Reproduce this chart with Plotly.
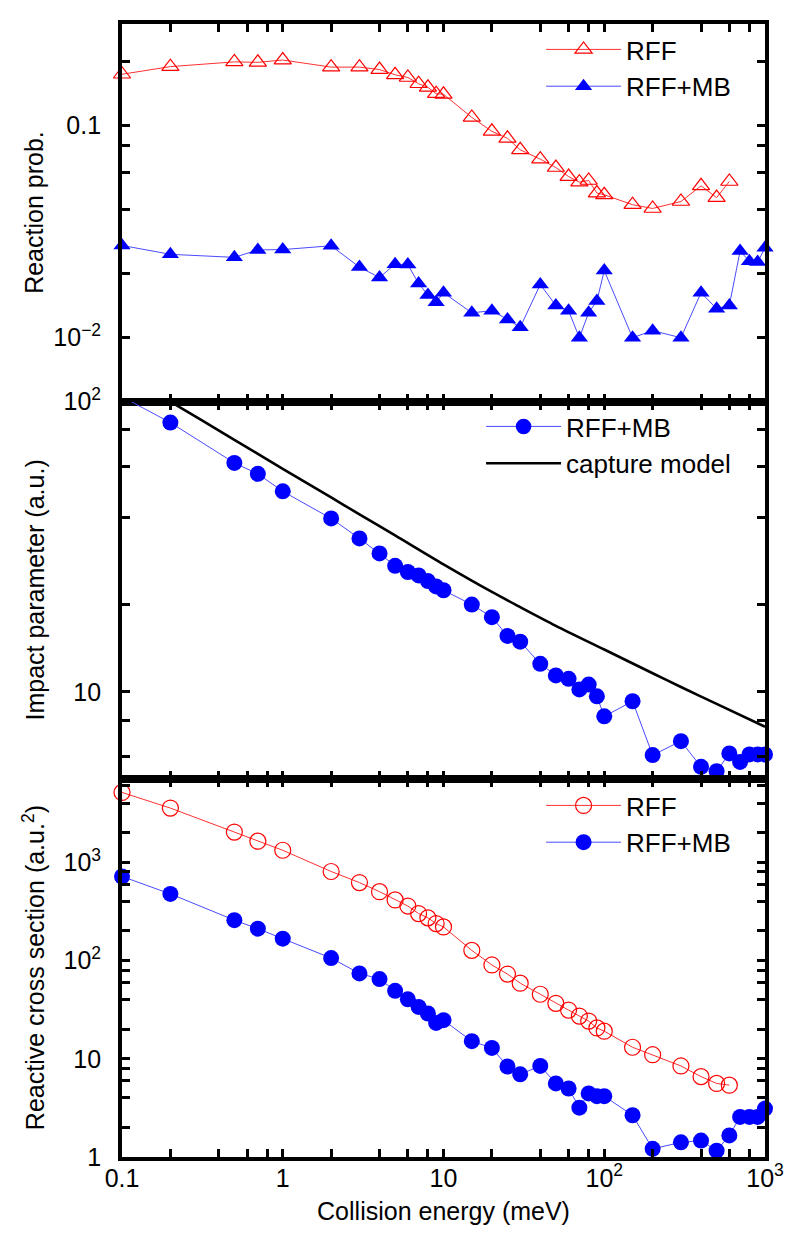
import math
import plotly.graph_objects as go
from plotly.subplots import make_subplots

# ---------------- data ----------------
energy = [0.1, 0.2, 0.5, 0.7, 1, 2, 3, 4, 5, 6, 7, 8, 9, 10, 15, 20, 25, 30, 40, 50,
          60, 70, 80, 90, 100, 150, 200, 300, 400, 500, 600, 700, 800, 900, 1000]
energy_rff = energy[:31]

prob_rff = [0.174, 0.189, 0.199, 0.198, 0.203, 0.188, 0.188, 0.183, 0.173, 0.168,
            0.157, 0.151, 0.141, 0.140, 0.109, 0.0937, 0.0869, 0.0767, 0.0693, 0.0633,
            0.0574, 0.054, 0.055, 0.048, 0.0471, 0.0423, 0.0406, 0.0438, 0.0519, 0.0457,
            0.0544]
prob_mb = [0.0272, 0.0247, 0.0239, 0.0259, 0.026, 0.0271, 0.0215, 0.0192, 0.0222, 0.0221,
           0.018, 0.0159, 0.0147, 0.0163, 0.0131, 0.0134, 0.0122, 0.0112, 0.0178, 0.0142,
           0.0134, 0.0100, 0.0131, 0.0149, 0.0207, 0.0100, 0.0108, 0.0100, 0.0163, 0.0137,
           0.0142, 0.0256, 0.0229, 0.0227, 0.0265]

impact_mb = [104, 84.7, 61.5, 56.4, 49.1, 39.6, 33.8, 30.0, 27.2, 25.9,
             25.2, 24.1, 23.1, 22.4, 20.0, 18.1, 15.6, 14.9, 12.5, 11.4,
             11.1, 10.2, 10.6, 9.66, 8.24, 9.29, 6.06, 6.77, 5.52, 5.33,
             6.14, 5.74, 6.09, 6.09, 6.09]
capture_energy = [0.1, 0.2, 0.5, 1, 2, 3, 5, 10, 20, 30, 50, 100, 200, 300, 500, 1000]
capture_impact = [125.6, 100, 73.9, 58.7, 46.8, 40.9, 34.6, 27.5, 22.1, 19.6, 16.9,
                  14.0, 11.6, 10.4, 9.10, 7.59]

sigma_rff = [5150, 3566, 2032, 1643, 1327, 807, 622, 503, 414, 359,
             301, 272, 238, 220, 127, 90.2, 72.8, 58.9, 45.4, 36.7,
             31.3, 27.2, 24.2, 20.6, 19.1, 13.1, 11.0, 8.45, 6.58, 5.61,
             5.39]
sigma_mb = [718, 477, 258, 211, 167, 106, 74, 64.8, 49.2, 40.3,
            33.7, 28.9, 23.2, 24.7, 15.1, 12.9, 8.34, 6.95, 8.45, 5.61,
            4.98, 3.18, 4.44, 4.16, 4.16, 2.66, 1.21, 1.41, 1.47, 1.16,
            1.66, 2.56, 2.56, 2.56, 3.11]

# axis ranges / ticks
x_range = [0.1, 1000]
x_tickvals = [0.1, 1, 10, 100, 1000]
x_ticktext = ["0.1", "1", "10", "10<sup>2</sup>", "10<sup>3</sup>"]
x_minor = [0.2, 0.4, 0.6, 0.8, 2, 4, 6, 8, 20, 40, 60, 80, 200, 400, 600, 800]

y1_range = [0.005, 0.3]
y1_tickvals = [0.01, 0.1]
y1_ticktext = ["10<sup>−2</sup>", "0.1"]
y1_minor = [0.02, 0.04, 0.06, 0.08, 0.2]

y2_range = [5, 100]
y2_tickvals = [10, 100]
y2_ticktext = ["10", "10<sup>2</sup>"]
y2_minor = [6, 8, 20, 40, 60, 80]

y3_range = [1, 7000]
y3_tickvals = [1, 10, 100, 1000]
y3_ticktext = ["1", "10", "10<sup>2</sup>", "10<sup>3</sup>"]
y3_minor = [2, 4, 6, 8, 20, 40, 60, 80, 200, 400, 600, 800, 2000, 4000, 6000]

# ---------------- styling ----------------
FONT = "Liberation Sans, Arial, Helvetica, sans-serif"
RED = "#ff0000"
RED_LINE = "#ff3030"
BLUE = "#0000ff"
BLUE_LINE = "#4a4aff"
TICKSIZE = 25
LEGSIZE = 26
TITLESIZE = 25

fig = make_subplots(rows=3, cols=1, shared_xaxes=True, vertical_spacing=0)

# Row 1: reaction probability
fig.add_trace(go.Scatter(
    x=energy_rff, y=prob_rff, mode="lines+markers", name="RFF",
    line=dict(color=RED_LINE, width=1),
    marker=dict(symbol="triangle-up-open", size=15, color=RED, line=dict(width=1.2, color=RED)),
    cliponaxis=False, legend="legend", legendgroup="r1a"), row=1, col=1)
fig.add_trace(go.Scatter(
    x=energy, y=prob_mb, mode="lines+markers", name="RFF+MB",
    line=dict(color=BLUE_LINE, width=1),
    marker=dict(symbol="triangle-up", size=15, color=BLUE, line=dict(width=0)),
    cliponaxis=False, legend="legend", legendgroup="r1b"), row=1, col=1)

# Row 2: impact parameter (points beyond the axis range are not marked)
b_lo, b_hi = y2_range
b_sizes = [16 if b_lo <= v <= b_hi else 0 for v in impact_mb]
fig.add_trace(go.Scatter(
    x=energy, y=impact_mb, mode="lines+markers", name="RFF+MB",
    line=dict(color=BLUE_LINE, width=1),
    marker=dict(symbol="circle", size=b_sizes, color=BLUE, opacity=1, line=dict(width=0)),
    cliponaxis=False, legend="legend2", legendgroup="r2a"), row=2, col=1)
fig.add_trace(go.Scatter(
    x=capture_energy, y=capture_impact, mode="lines", name="capture model",
    line=dict(color="black", width=2.6, shape="spline", smoothing=0.8),
    legend="legend2", legendgroup="r2b"), row=2, col=1)

# Row 3: cross sections
fig.add_trace(go.Scatter(
    x=energy_rff, y=sigma_rff, mode="lines+markers", name="RFF",
    line=dict(color=RED_LINE, width=1),
    marker=dict(symbol="circle-open", size=16, color=RED, line=dict(width=1.2, color=RED)),
    cliponaxis=False, legend="legend3", legendgroup="r3a"), row=3, col=1)
fig.add_trace(go.Scatter(
    x=energy, y=sigma_mb, mode="lines+markers", name="RFF+MB",
    line=dict(color=BLUE_LINE, width=1),
    marker=dict(symbol="circle", size=16, color=BLUE, line=dict(width=0)),
    cliponaxis=False, legend="legend3", legendgroup="r3b"), row=3, col=1)

axis_common = dict(
    type="log", showline=True, linecolor="black", linewidth=3.8, mirror="allticks",
    ticks="inside", ticklen=8, tickwidth=2.8, tickcolor="black",
    showgrid=False, zeroline=False, tickmode="array",
    tickfont=dict(family=FONT, size=TICKSIZE, color="black"),
)

def minor_ticks(vals):
    return dict(tickmode="array", tickvals=vals, ticks="inside", ticklen=8,
                tickwidth=2.8, tickcolor="black", showgrid=False)

for r in (1, 2, 3):
    fig.update_xaxes(
        range=[math.log10(x_range[0]), math.log10(x_range[1])],
        tickvals=x_tickvals, ticktext=x_ticktext, minor=minor_ticks(x_minor),
        showticklabels=(r == 3), ticklabelstandoff=-4, **axis_common, row=r, col=1)

fig.update_xaxes(title=dict(text="Collision energy (meV)",
                            font=dict(family=FONT, size=TICKSIZE, color="black"),
                            standoff=13), row=3, col=1)

for r, rng, tv, tt, mn in ((1, y1_range, y1_tickvals, y1_ticktext, y1_minor),
                           (2, y2_range, y2_tickvals, y2_ticktext, y2_minor),
                           (3, y3_range, y3_tickvals, y3_ticktext, y3_minor)):
    fig.update_yaxes(
        range=[math.log10(rng[0]), math.log10(rng[1])],
        tickvals=tv, ticktext=tt, minor=minor_ticks(mn),
        ticklabelstandoff=12, **axis_common, row=r, col=1)

ML, MR, MT, MB_ = 114, 43, 16, 97
W, H = 800, 1246
plot_h = H - MT - MB_
plot_w = W - ML - MR

def paper_y(px):
    return 1 - (px - MT) / plot_h

# y-axis titles, all on the same vertical line
title_x = (26 - ML) / plot_w
y_titles = [("y domain", "Reaction prob."),
            ("y2 domain", "Impact parameter (a.u.)"),
            ("y3 domain", "Reactive cross section (a.u.<sup>2</sup>)")]
for yref, txt in y_titles:
    fig.add_annotation(xref="paper", yref=yref, x=title_x, y=0.5, text=txt,
                       textangle=-90, showarrow=False, xanchor="center", yanchor="middle",
                       font=dict(family=FONT, size=TITLESIZE, color="black"))

legend_common = dict(
    xanchor="right", x=0.955, yanchor="top",
    font=dict(family=FONT, size=LEGSIZE, color="black"),
    bgcolor="rgba(0,0,0,0)", borderwidth=0, itemwidth=75,
    traceorder="grouped", tracegroupgap=0,
)

fig.update_layout(
    width=W, height=H,
    margin=dict(l=ML, r=MR, t=MT, b=MB_, autoexpand=False),
    paper_bgcolor="white", plot_bgcolor="white",
    font=dict(family=FONT, color="black"),
    showlegend=True,
    legend=dict(y=paper_y(18), **legend_common),
    legend2=dict(y=paper_y(395), **legend_common),
    legend3=dict(y=paper_y(774), **legend_common),
)

fig.write_html("out.html")
